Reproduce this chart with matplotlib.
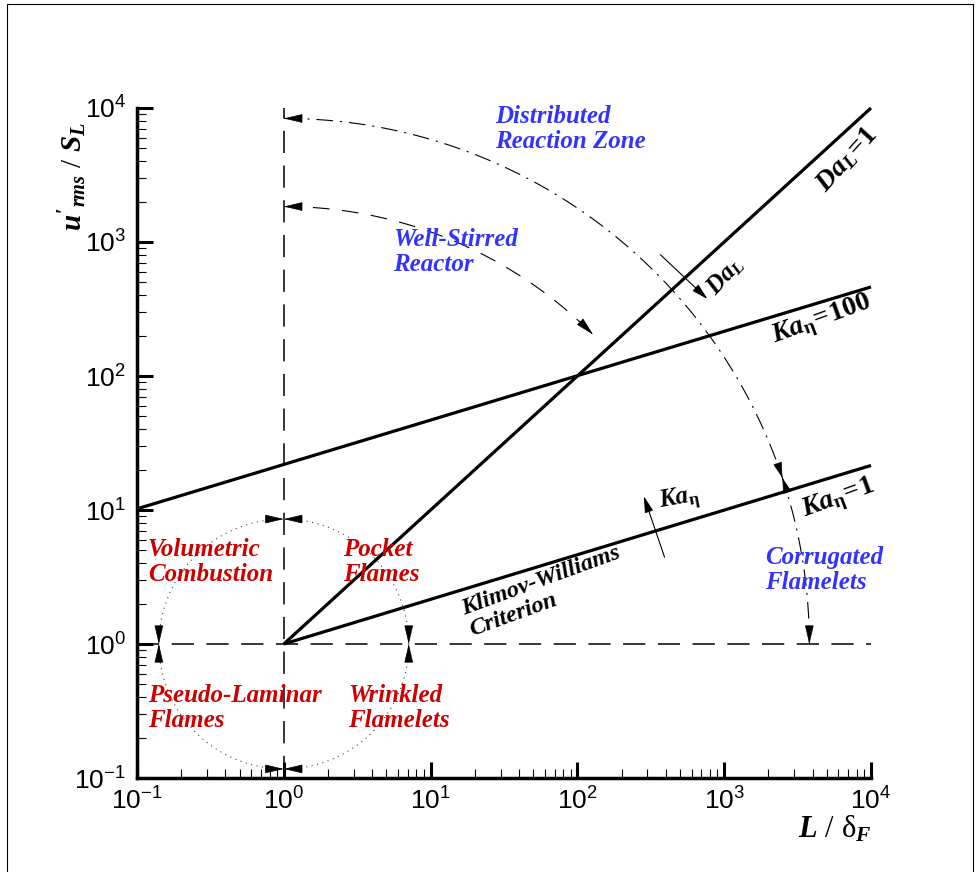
import matplotlib
matplotlib.use('Agg')
import matplotlib.pyplot as plt
import numpy as np
from matplotlib.patches import Rectangle, ArrowStyle

plt.rcParams['font.family'] = ['Liberation Sans', 'DejaVu Sans']
plt.rcParams['mathtext.fontset'] = 'custom'
plt.rcParams['mathtext.rm'] = 'Liberation Serif:bold'
plt.rcParams['mathtext.it'] = 'Liberation Serif:italic:bold'
plt.rcParams['mathtext.bf'] = 'Liberation Serif:bold'
plt.rcParams['lines.scale_dashes'] = False

# 축 범위
x_lim = [0.1, 1e4]
y_lim = [0.1, 1e4]

# 경계선 (Da_L=1, Ka_eta=100, Ka_eta=1)
da1_x = [1, 1e4]
da1_y = [1, 1e4]
ka100_x = [0.1, 1e4]
ka100_y = [10.2, 462]
ka1_x = [1, 1e4]
ka1_y = [1, 21.5]

# 기준점 (점선 교차점)
ref_x, ref_y = 1.0, 1.0

# 원호 반지름 (x축 decade 단위)
small_r = 0.851
inner_r = 2.98
outer_r = 3.58

# 영역 이름
red_labels = ["Volumetric\nCombustion", "Pocket\nFlames",
              "Pseudo-Laminar\nFlames", "Wrinkled\nFlamelets"]
red_x = [0.1185, 2.52, 0.1185, 2.73]
red_y = [4.09, 4.09, 0.333, 0.333]

blue_labels = ["Distributed\nReaction Zone", "Well-Stirred\nReactor",
               "Corrugated\nFlamelets"]
blue_x = [27.4, 5.53, 1890]
blue_y = [6970, 842, 3.57]

# 선 라벨
line_labels = [r'$Da_L\!=\!1$', r'$Ka_{\mathrm{η}}\!=\!100$', r'$Ka_{\mathrm{η}}\!=\!1$']
line_label_x = [6900, 4620, 6040]
line_label_y = [4150, 262, 12.1]

# 작은 화살표 (Da_L, Ka_eta)
da_arrow_tip = (770, 375)
da_arrow_tail = (-34, 32)   # offset points
ka_arrow_tip = (283, 12.7)
ka_arrow_tail = (15, -44)

fig = plt.figure(figsize=(9.76, 8.72), dpi=100)
ax_left, ax_bottom, ax_w, ax_h = 137 / 976, 94 / 872, 734 / 976, 670 / 872
ax = fig.add_axes([ax_left, ax_bottom, ax_w, ax_h])
ax.set_xscale('log')
ax.set_yscale('log')
ax.set_xlim(x_lim)
ax.set_ylim(y_lim)

# 로그 공간에서 x decade 대비 y decade 화면 비율
k = (ax_w * 976) / (ax_h * 872)


def rot_angle(slope):
    return np.degrees(np.arctan(slope * k))


def arc(r, t0, t1, n=300):
    t = np.linspace(t0, t1, n)
    return ref_x * 10 ** (r * np.cos(t)), ref_y * 10 ** (r * k * np.sin(t))


def arc_pt(r, t):
    return ref_x * 10 ** (r * np.cos(t)), ref_y * 10 ** (r * k * np.sin(t))


def head(xy, deg, length=12, half_w=2.8):
    d = np.radians(deg)
    ax.annotate('', xy=xy, xytext=(-length * np.cos(d), -length * np.sin(d)),
                textcoords='offset points',
                arrowprops=dict(arrowstyle=ArrowStyle('-|>', head_length=length, head_width=half_w),
                                mutation_scale=1, shrinkA=0, shrinkB=0,
                                fc='k', ec='k', lw=0.5))


# 점선 기준선
ax.plot([ref_x, ref_x], y_lim, color='k', lw=1.1, ls=(0, (16, 9)))
ax.plot(x_lim, [ref_y, ref_y], color='k', lw=1.1, ls=(0, (16, 9)))

# 굵은 경계선
for xs, ys in [(da1_x, da1_y), (ka100_x, ka100_y), (ka1_x, ka1_y)]:
    ax.plot(xs, ys, color='k', lw=2.3, solid_capstyle='butt', clip_on=False)

# 작은 점선 원
cx, cy = arc(small_r, 0, 2 * np.pi, 400)
ax.plot(cx, cy, color='#444444', lw=0.8, ls=(0, (0.8, 3.2)))
top = arc_pt(small_r, np.pi / 2)
bot = arc_pt(small_r, -np.pi / 2)
lft = arc_pt(small_r, np.pi)
rgt = arc_pt(small_r, 0)
for p in [top, bot]:
    head(p, 0)
    head(p, 180)
for p in [lft, rgt]:
    head(p, -90)
    head(p, 90)

# 선 방향 (ellipse param 각도)
slope_da = np.log10(da1_y[1] / da1_y[0]) / np.log10(da1_x[1] / da1_x[0])
slope_ka = np.log10(ka1_y[1] / ka1_y[0]) / np.log10(ka1_x[1] / ka1_x[0])
th_da = np.arctan(slope_da)
th_ka = np.arctan(slope_ka)

# 안쪽 원호 (Well-Stirred Reactor)
ix, iy = arc(inner_r, np.pi / 2, th_da)
ax.plot(ix, iy, color='k', lw=0.8, ls=(0, (12, 9)))
head(arc_pt(inner_r, np.pi / 2), 180)
head(arc_pt(inner_r, th_da), np.degrees(th_da) - 90)

# 바깥 원호 (Distributed Reaction Zone)
ox, oy = arc(outer_r, np.pi / 2, 0)
ax.plot(ox, oy, color='k', lw=0.8, ls=(0, (12, 5, 1.5, 5)))
head(arc_pt(outer_r, np.pi / 2), 180)
pk = arc_pt(outer_r, th_ka)
head(pk, np.degrees(th_ka) - 90, 10)
head(pk, np.degrees(th_ka) + 90, 10)
head(arc_pt(outer_r, 0), -90)

# Da_L, Ka_eta 화살표
arrow_kw = dict(arrowstyle=ArrowStyle('-|>', head_length=10, head_width=2.6),
                mutation_scale=1, shrinkA=0, shrinkB=0, fc='k', ec='k', lw=0.8)
ax.annotate('', xy=da_arrow_tip, xytext=da_arrow_tail, textcoords='offset points',
            arrowprops=arrow_kw)
ax.annotate('', xy=ka_arrow_tip, xytext=ka_arrow_tail, textcoords='offset points',
            arrowprops=arrow_kw)

# 라벨
ang_da = rot_angle(slope_da)
ang_ka = rot_angle(slope_ka)
rots = [ang_da, ang_ka, ang_ka]
for s, x, y, r in zip(line_labels, line_label_x, line_label_y, rots):
    ax.text(x, y, s, fontsize=20, rotation=r, rotation_mode='anchor',
            ha='center', va='center')
ax.text(1010, 557, r'$Da_L$', fontsize=18, rotation=ang_da, rotation_mode='anchor',
        ha='center', va='center')
ax.text(499, 11.9, r'$Ka_{\mathrm{η}}$', fontsize=18, rotation=10, rotation_mode='anchor',
        ha='center', va='center')
ax.text(60, 2.45, "Klimov-Williams\nCriterion", family='Liberation Serif',
        weight='bold', style='italic', fontsize=17.5, rotation=ang_ka,
        rotation_mode='anchor', ha='center', va='center', multialignment='left',
        linespacing=1.1)

text_kw = dict(family='Liberation Serif', weight='bold', style='italic',
               fontsize=18, ha='left', va='center', linespacing=1.1)
for s, x, y in zip(red_labels, red_x, red_y):
    ax.text(x, y, s, color='#cc0000', **text_kw)
for s, x, y in zip(blue_labels, blue_x, blue_y):
    ax.text(x, y, s, color='#3333ff', **text_kw)

# 축 스타일
for side in ['top', 'right']:
    ax.spines[side].set_visible(False)
for side in ['left', 'bottom']:
    ax.spines[side].set_linewidth(2.5)
ax.tick_params(which='major', direction='in', length=11.5, width=2.2, labelsize=19,
               top=False, right=False)
ax.tick_params(which='minor', direction='in', length=6.5, width=0.8,
               top=False, right=False)
ax.tick_params(axis='x', which='major', pad=7)
ax.tick_params(axis='y', which='major', pad=8)

fig.text(73 / 976, 1 - 176 / 872, r"$u'_{rms}\ \mathdefault{/}\ S_L$", rotation=90,
         family='Liberation Serif', fontsize=21, ha='center', va='center')
fig.text(872 / 976, 1 - 829 / 872, r"$L\ \mathdefault{/}\ \mathdefault{δ}_F$",
         family='Liberation Serif', fontsize=22, ha='right', va='center')

# 그림 테두리
fig.patches.append(Rectangle((7 / 976, -0.02), 966 / 976, 1.02 - 4 / 872,
                             transform=fig.transFigure, fill=False, ec='k', lw=0.8))

fig.savefig('out.png', dpi=100)
